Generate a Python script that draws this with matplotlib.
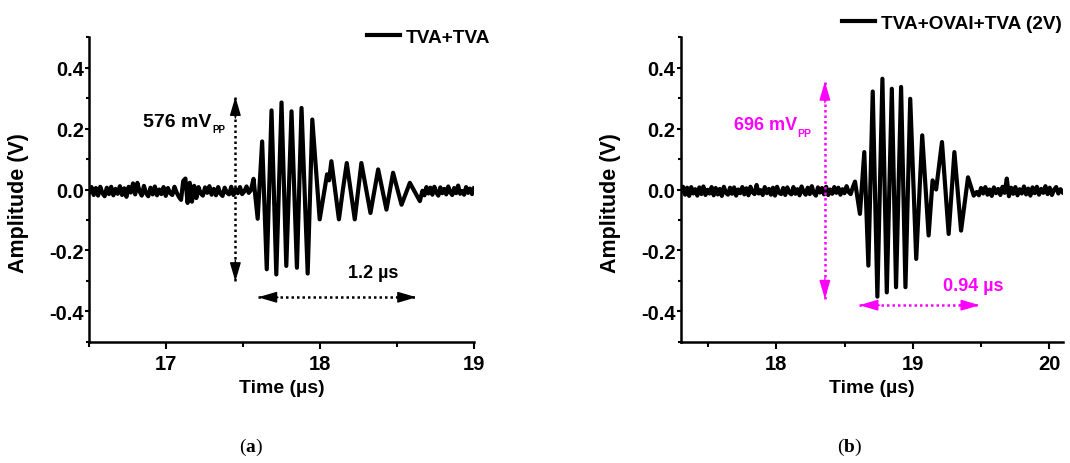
import numpy as np
import matplotlib
matplotlib.use('Agg')
import matplotlib.pyplot as plt
from matplotlib.ticker import MultipleLocator, FormatStrFormatter

plt.rcParams['font.family'] = ['Liberation Sans', 'DejaVu Sans']
plt.rcParams['font.weight'] = 'bold'
plt.rcParams['axes.labelweight'] = 'bold'
plt.rcParams['axes.unicode_minus'] = False
plt.rcParams['mathtext.fontset'] = 'custom'
plt.rcParams['mathtext.rm'] = 'Liberation Serif'
plt.rcParams['mathtext.bf'] = 'Liberation Serif:bold'

# panel (a) TVA+TVA (time in us, amplitude in V / mV)
a_pre_mv = [-8, 8, -18, 5, -20, 9, -12, -22, 6, -15, 9, -19, 2, -14, 11, -18, 4, -24, 9, -10,
            20, -16, 22, -6, -20, 12, -13, -22, 6, -16, 10, -19, 0, -15, 8, -21, 5, -12, -18, 9,
            -10, -24, -34, 28, 36, -44, 22, -40, 12, -28, 8, -13, -20, 7, -11, 11, -17, 2, -19, 8,
            -13, -21, 6, -10, -16, 9, -18, 1, -12, 8, -15, -6, 10, -11, -2]
a_burst_t = [17.567, 17.594, 17.623, 17.653, 17.684, 17.715, 17.749, 17.780, 17.814, 17.849,
             17.879, 17.919, 17.949, 17.997, 18.045, 18.058, 18.073, 18.122, 18.148, 18.173,
             18.225, 18.268, 18.327, 18.377, 18.431, 18.474, 18.529, 18.583, 18.648]
a_burst_v = [0.035, -0.096, 0.158, -0.262, 0.260, -0.279, 0.286, -0.251, 0.257, -0.257,
             0.268, -0.276, 0.230, -0.098, 0.050, 0.030, 0.093, -0.098, 0.000, 0.087,
             -0.098, 0.087, -0.077, 0.066, -0.066, 0.055, -0.050, 0.022, -0.038]
a_post_mv = [-4, -19, 8, -13, 6, -17, 9, -10, -20, 7, -12, 2, -16, 10, -9, -18, 5, -12, 13, -14,
             -5, -17, 8, -11, 3, -15, 4]

# panel (b) TVA+OVAI+TVA (2V)
b_pre_mv = [-6, 9, -17, 6, -21, 8, -13, 1, -20, 7, -15, 10, -18, -1, -13, 8, -19, 5, -16, 2,
            -21, 9, -11, -17, 6, -14, 7, -20, 0, -12, 8, -16, 4, -19, 9, -9, -15, 15, -13, -2,
            -18, 8, -12, 2, -17, 6, -20, 9, -11, -15, 5, -18, 7, -10, -16, 8, -14, 1, -19, 10,
            -8, -17, 6, -15, 11, -12, -20, 7, -10, 5, -16, 9, -18, 0, -14, 8, -11, 6, -17, 1,
            -12, 11, -8, -15, 6]
b_burst_t = [18.577, 18.613, 18.645, 18.675, 18.707, 18.741, 18.778, 18.810, 18.847, 18.878,
             18.915, 18.947, 18.982, 19.026, 19.070, 19.117, 19.146, 19.172, 19.215, 19.264,
             19.306, 19.355, 19.406, 19.448]
b_burst_v = [0.026, -0.080, 0.123, -0.250, 0.322, -0.352, 0.364, -0.338, 0.331, -0.321,
             0.337, -0.321, 0.298, -0.228, 0.178, -0.151, 0.030, 0.000, 0.156, -0.146,
             0.123, -0.135, 0.040, -0.020]
b_post_mv = [-8, -19, 5, -13, 8, -17, 0, -21, 7, -12, 2, -18, 9, -11, 36, -22, 6, -14, 8, -19,
             1, -13, 10, -16, 3, -20, 7, -12, 9, -17, 2, -11, 11, -15, 6, -18, -1, 8, -13, 1, -9]

t_a = np.concatenate([np.linspace(16.5, 17.55, len(a_pre_mv)), a_burst_t,
                      np.linspace(18.665, 19.0, len(a_post_mv))])
v_a = np.concatenate([np.array(a_pre_mv) / 1000, a_burst_v, np.array(a_post_mv) / 1000])
t_b = np.concatenate([np.linspace(17.3, 18.56, len(b_pre_mv)), b_burst_t,
                      np.linspace(19.47, 20.1, len(b_post_mv))])
v_b = np.concatenate([np.array(b_pre_mv) / 1000, b_burst_v, np.array(b_post_mv) / 1000])

fig = plt.figure(figsize=(10.7, 4.64), dpi=100)
ax1 = fig.add_axes([0.0835, 0.2614, 0.3595, 0.656])
ax2 = fig.add_axes([0.6364, 0.2614, 0.3567, 0.656])


def style(ax, xlim, minor):
    ax.set_xlim(*xlim)
    ax.set_ylim(-0.5, 0.5)
    for s in ['top', 'right']:
        ax.spines[s].set_visible(False)
    for s in ['left', 'bottom']:
        ax.spines[s].set_linewidth(1.8)
    ax.xaxis.set_major_locator(MultipleLocator(1))
    ax.xaxis.set_minor_locator(MultipleLocator(minor))
    ax.yaxis.set_major_locator(MultipleLocator(0.2))
    ax.yaxis.set_minor_locator(MultipleLocator(0.1))
    ax.yaxis.set_major_formatter(FormatStrFormatter('%.1f'))
    ax.xaxis.set_major_formatter(FormatStrFormatter('%d'))
    ax.tick_params(axis='x', which='major', direction='out', length=5, width=1.5, pad=4, labelsize=14.5)
    ax.tick_params(axis='x', which='minor', direction='out', length=3.5, width=1.5)
    ax.tick_params(axis='y', which='major', direction='out', length=3, width=1.5, pad=1, labelsize=14.5)
    ax.tick_params(axis='y', which='minor', direction='out', length=2, width=1.5)
    ax.set_ylabel('Amplitude (V)', fontsize=15.5, va='center')
    ax.set_xlabel('Time (\u00b5s)', fontsize=14, va='center')
    ax.yaxis.set_label_coords(-0.184, 0.46)
    ax.xaxis.set_label_coords(0.5, -0.149)


def arrow(ax, p0, p1, color, dx, dy):
    # dotted shaft
    ax.plot([p0[0], p1[0]], [p0[1], p1[1]], color=color, lw=1.8, linestyle=(0, (1, 1.2)))
    # solid filled heads at both ends
    for tip, sgn in ((p1, 1), (p0, -1)):
        ax.annotate('', xy=tip, xytext=(tip[0] - sgn * dx, tip[1] - sgn * dy),
                    arrowprops=dict(arrowstyle='-|>,head_length=0.58,head_width=0.17',
                                    mutation_scale=20, color=color, lw=1,
                                    shrinkA=0, shrinkB=0))


def vpp(ax, x, y, main, size, sub_size, color, drop):
    t = ax.text(x, y, main, fontsize=size, color=color, ha='left', va='baseline')
    ax.annotate('PP', xy=(1, 0), xycoords=t, xytext=(0.5, drop), textcoords='offset points',
                fontsize=sub_size, color=color, ha='left', va='baseline')


style(ax1, (16.5, 19.0), 0.5)
ax1.plot(t_a, v_a, color='black', lw=3, solid_joinstyle='round', label='TVA+TVA')
arrow(ax1, (17.449, -0.302), (17.449, 0.305), 'black', 0, 0.07)
arrow(ax1, (17.596, -0.354), (18.626, -0.354), 'black', 0.13, 0)
vpp(ax1, 16.848, 0.208, '576 mV', 14, 7, 'black', -1.5)
ax1.text(18.181, -0.288, '1.2 \u00b5s', fontsize=13, ha='left', va='baseline')
ax1.legend(loc='center left', bbox_to_anchor=(367 / 1070, 1 - 38 / 464),
           bbox_transform=fig.transFigure, frameon=False, fontsize=13.7,
           handlelength=1.74, handletextpad=0.3, borderpad=0, borderaxespad=0)

style(ax2, (17.3, 20.1), 0.5)
ax2.plot(t_b, v_b, color='black', lw=3, solid_joinstyle='round', label='TVA+OVAI+TVA (2V)')
arrow(ax2, (18.356, -0.36), (18.356, 0.355), '#FF00FF', 0, 0.07)
arrow(ax2, (18.608, -0.38), (19.492, -0.38), '#FF00FF', 0.15, 0)
vpp(ax2, 17.686, 0.200, '696 mV', 13, 7.5, '#FF00FF', -2.5)
ax2.text(19.224, -0.33, '0.94 \u00b5s', fontsize=13, color='#FF00FF', ha='left', va='baseline')
ax2.legend(loc='center left', bbox_to_anchor=(842 / 1070, 1 - 24 / 464),
           bbox_transform=fig.transFigure, frameon=False, fontsize=13.7,
           handlelength=1.74, handletextpad=0.3, borderpad=0, borderaxespad=0)

fig.text(251 / 1070, 1 - 447 / 464, r'($\mathbf{a}$)', fontsize=14, family='Liberation Serif',
         fontweight='normal', ha='center', va='center')
fig.text(850 / 1070, 1 - 447 / 464, r'($\mathbf{b}$)', fontsize=14, family='Liberation Serif',
         fontweight='normal', ha='center', va='center')

fig.savefig('out.png', dpi=100)
